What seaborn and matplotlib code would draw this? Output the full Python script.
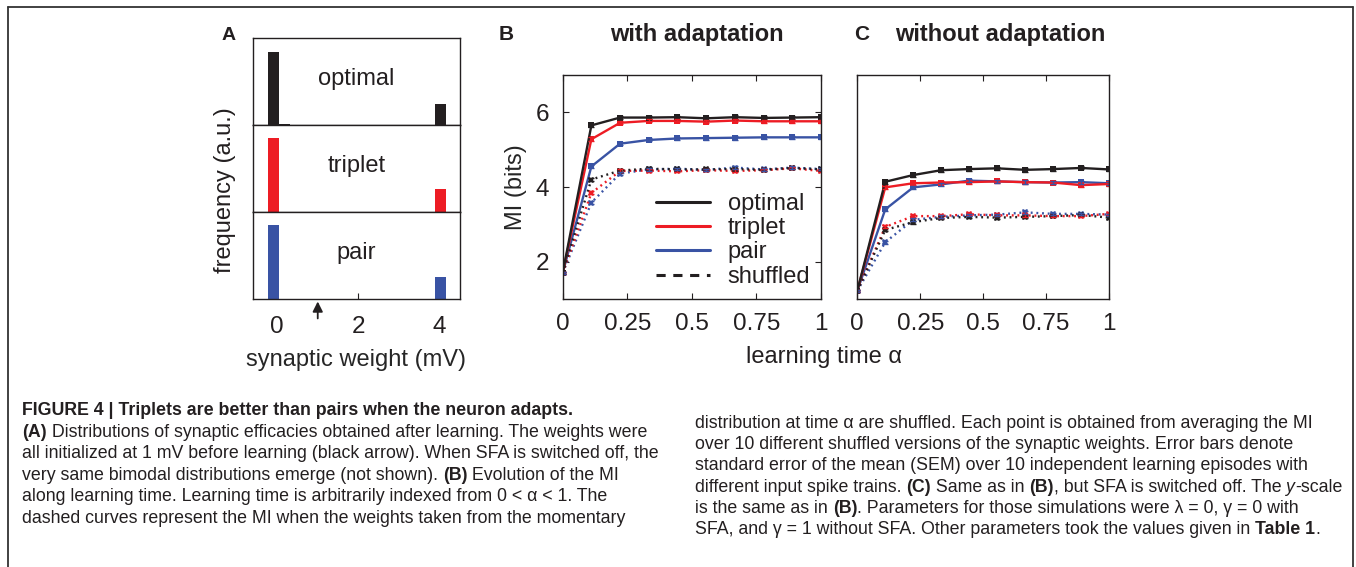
import numpy as np
import pandas as pd
import seaborn as sns
import matplotlib.pyplot as plt
from matplotlib.lines import Line2D

# Learning time points (10 snapshots)
alpha = [0, 0.111, 0.222, 0.333, 0.444, 0.556, 0.667, 0.778, 0.889, 1.0]

# Panel B: with adaptation
opt_B = [1.70, 5.65, 5.86, 5.86, 5.87, 5.84, 5.87, 5.85, 5.86, 5.87]
tri_B = [1.70, 5.28, 5.72, 5.77, 5.77, 5.75, 5.78, 5.76, 5.76, 5.76]
pair_B = [1.70, 4.55, 5.16, 5.26, 5.30, 5.31, 5.32, 5.33, 5.33, 5.33]
opt_sh_B = [1.70, 4.20, 4.44, 4.49, 4.47, 4.47, 4.48, 4.46, 4.51, 4.47]
tri_sh_B = [1.70, 3.84, 4.43, 4.44, 4.42, 4.45, 4.43, 4.45, 4.50, 4.43]
pair_sh_B = [1.70, 3.58, 4.36, 4.47, 4.49, 4.46, 4.52, 4.47, 4.52, 4.48]

# Panel C: without adaptation
opt_C = [1.22, 4.14, 4.32, 4.45, 4.48, 4.50, 4.46, 4.48, 4.51, 4.47]
tri_C = [1.22, 3.99, 4.10, 4.12, 4.13, 4.15, 4.13, 4.12, 4.05, 4.08]
pair_C = [1.22, 3.40, 3.99, 4.07, 4.17, 4.15, 4.13, 4.12, 4.13, 4.10]
opt_sh_C = [1.22, 2.85, 3.06, 3.17, 3.20, 3.18, 3.20, 3.22, 3.25, 3.18]
tri_sh_C = [1.22, 2.93, 3.22, 3.22, 3.27, 3.24, 3.24, 3.22, 3.22, 3.28]
pair_sh_C = [1.22, 2.52, 3.12, 3.20, 3.24, 3.26, 3.32, 3.28, 3.28, 3.26]

# SEM (error bars)
sem_solid = [0.02, 0.05, 0.04, 0.04, 0.04, 0.04, 0.05, 0.04, 0.04, 0.04]
sem_shuf = [0.02, 0.04, 0.04, 0.04, 0.03, 0.03, 0.04, 0.03, 0.03, 0.03]

# Panel A: weight distributions after learning
weight_bins = [-0.08, 0.18, 4.02]
opt_freq = [0.84, 0.01, 0.25]
tri_freq = [0.85, 0.0, 0.27]
pair_freq = [0.85, 0.0, 0.26]

rules = ['optimal', 'triplet', 'pair']
colors = {'optimal': '#231f20', 'triplet': '#ed1c24', 'pair': '#3953a4'}
ink = '#231f20'
fs = 17
tfs = 17.5

sns.set_style('ticks')
plt.rcParams['font.family'] = ['Liberation Sans', 'DejaVu Sans']
plt.rcParams['axes.edgecolor'] = ink
plt.rcParams['axes.linewidth'] = 1.0
plt.rcParams['xtick.color'] = ink
plt.rcParams['ytick.color'] = ink
plt.rcParams['text.color'] = ink

fig = plt.figure(figsize=(13.56, 5.67), dpi=100)
W, H = 1356.0, 567.0


def fx(px):
    return px / W


def fy(py):
    return 1 - py / H


# ---------- Panel A ----------
a_left, a_right, a_top, a_bot = 252.7, 460.0, 38.3, 299.3
sub_h = (a_bot - a_top) / 3
freqs = [opt_freq, tri_freq, pair_freq]
for i, (rule, fr) in enumerate(zip(rules, freqs)):
    top = a_top + i * sub_h
    ax = fig.add_axes([fx(a_left), fy(top + sub_h), fx(a_right - a_left), sub_h / H])
    ax.bar(weight_bins, fr, width=0.27, color=colors[rule], edgecolor='none')
    ax.set_xlim(-0.6, 4.5)
    ax.set_ylim(0, 1)
    ax.set_yticks([])
    ax.text(0.5, 0.53, rule, transform=ax.transAxes, ha='center', va='center', fontsize=fs)
    if i < 2:
        ax.set_xticks([])
    else:
        ax.set_xticks([0, 2, 4])
        ax.tick_params(axis='x', direction='in', length=4, labelsize=tfs, pad=12)
        ax.set_xlabel('synaptic weight (mV)', fontsize=fs, labelpad=8)
        ax.annotate('', xy=(1, -0.025), xytext=(1, -0.22),
                    xycoords=('data', 'axes fraction'),
                    arrowprops=dict(arrowstyle='-|>', color=ink, lw=1.3,
                                    mutation_scale=15, shrinkA=0, shrinkB=0))

fig.text(fx(225), fy(190), 'frequency (a.u.)', rotation=90,
         ha='center', va='center', fontsize=fs)


# ---------- Panels B and C ----------
def long_frame(opt, tri, pair, opt_sh, tri_sh, pair_sh):
    rows = []
    for rule, vals, kind in [('optimal', opt, 'learned'), ('triplet', tri, 'learned'),
                             ('pair', pair, 'learned'), ('optimal', opt_sh, 'shuffled'),
                             ('triplet', tri_sh, 'shuffled'), ('pair', pair_sh, 'shuffled')]:
        for a, v in zip(alpha, vals):
            rows.append({'alpha': a, 'MI': v, 'rule': rule, 'kind': kind})
    return pd.DataFrame(rows)


dfB = long_frame(opt_B, tri_B, pair_B, opt_sh_B, tri_sh_B, pair_sh_B)
dfC = long_frame(opt_C, tri_C, pair_C, opt_sh_C, tri_sh_C, pair_sh_C)

b_top, b_bot = 75.0, 299.0
axB = fig.add_axes([fx(562.7), fy(b_bot), fx(821 - 562.7), (b_bot - b_top) / H])
axC = fig.add_axes([fx(857.3), fy(b_bot), fx(1109 - 857.3), (b_bot - b_top) / H])

for ax, df in [(axB, dfB), (axC, dfC)]:
    sns.lineplot(data=df, x='alpha', y='MI', hue='rule', style='kind',
                 hue_order=rules[::-1], palette=colors,
                 dashes={'learned': '', 'shuffled': (0.8, 1.6)},
                 markers={'learned': 's', 'shuffled': 'X'},
                 markersize=5, markeredgewidth=0, linewidth=1.7,
                 errorbar=None, legend=False, ax=ax, sort=False)
    for rule in rules:
        for kind, err in [('learned', sem_solid), ('shuffled', sem_shuf)]:
            sub = df[(df['rule'] == rule) & (df['kind'] == kind)]
            ax.errorbar(sub['alpha'], sub['MI'], yerr=err, fmt='none',
                        ecolor=colors[rule], elinewidth=1.0, capsize=2.5,
                        capthick=1.0)
    ax.set_xlim(0, 1)
    ax.set_ylim(1, 7)
    ax.set_xticks([0, 0.25, 0.5, 0.75, 1])
    ax.set_xticklabels(['0', '0.25', '0.5', '0.75', '1'])
    ax.set_xlabel('')
    ax.set_ylabel('')
    ax.tick_params(axis='x', direction='in', length=4, labelsize=tfs, pad=10,
                   top=True)
    for s in ax.spines.values():
        s.set_visible(True)

axB.set_yticks([2, 4, 6])
axB.tick_params(axis='y', direction='in', length=4, labelsize=tfs, pad=10,
                right=True)
axB.set_ylabel('MI (bits)', fontsize=fs, labelpad=6)
axC.set_yticks([])

handles = [Line2D([], [], color=colors['optimal'], lw=2.2),
           Line2D([], [], color=colors['triplet'], lw=2.2),
           Line2D([], [], color=colors['pair'], lw=2.2),
           Line2D([], [], color=ink, lw=2.2, ls=(0, (3, 2.5)))]
axB.legend(handles, ['optimal', 'triplet', 'pair', 'shuffled'],
           loc='center left', bbox_to_anchor=(0.36, 0.262), frameon=False,
           fontsize=fs, handlelength=2.3, handletextpad=0.75,
           labelspacing=0.1, borderpad=0, borderaxespad=0)

fig.text(fx(824), fy(357), 'learning time α', ha='center', va='center', fontsize=fs)

# panel letters and titles
fig.text(fx(229), fy(35), 'A', ha='center', va='center', fontsize=14, fontweight='bold')
fig.text(fx(506), fy(35), 'B', ha='center', va='center', fontsize=15, fontweight='bold')
fig.text(fx(862), fy(35), 'C', ha='center', va='center', fontsize=15, fontweight='bold')
fig.text(fx(697), fy(35), 'with adaptation', ha='center', va='center', fontsize=fs,
         fontweight='bold')
fig.text(fx(1000), fy(35), 'without adaptation', ha='center', va='center', fontsize=fs,
         fontweight='bold')

# outer frame (top, left, right)
frame_kw = dict(color='#333333', lw=1.3, transform=fig.transFigure)
fig.add_artist(Line2D([fx(8), fx(1353)], [fy(7), fy(7)], **frame_kw))
fig.add_artist(Line2D([fx(8), fx(8)], [fy(7), 0], **frame_kw))
fig.add_artist(Line2D([fx(1353), fx(1353)], [fy(7), 0], **frame_kw))

# ---------- caption ----------
cap_font = ['Liberation Sans', 'DejaVu Sans']
cap_size = 12.8
renderer = fig.canvas.get_renderer()


def rich_line(x, y, parts):
    x = fx(x)
    for txt, style in parts:
        t = fig.text(x, fy(y), txt, fontsize=cap_size, family=cap_font,
                     fontweight='bold' if style == 'b' else 'normal',
                     fontstyle='italic' if style == 'i' else 'normal',
                     va='baseline', color=ink)
        x += t.get_window_extent(renderer).width / W


left_lines = [
    [('FIGURE 4 | Triplets are better than pairs when the neuron adapts.', 'b')],
    [('(A)', 'b'), (' Distributions of synaptic efficacies obtained after learning. The weights were', '')],
    [('all initialized at 1 mV before learning (black arrow). When SFA is switched off, the', '')],
    [('very same bimodal distributions emerge (not shown). ', ''), ('(B)', 'b'), (' Evolution of the MI', '')],
    [('along learning time. Learning time is arbitrarily indexed from 0 < α < 1. The', '')],
    [('dashed curves represent the MI when the weights taken from the momentary', '')],
]
right_lines = [
    [('distribution at time α are shuffled. Each point is obtained from averaging the MI', '')],
    [('over 10 different shuffled versions of the synaptic weights. Error bars denote', '')],
    [('standard error of the mean (SEM) over 10 independent learning episodes with', '')],
    [('different input spike trains. ', ''), ('(C)', 'b'), (' Same as in ', ''), ('(B)', 'b'),
     (', but SFA is switched off. The ', ''), ('y', 'i'), ('-scale', '')],
    [('is the same as in ', ''), ('(B)', 'b'),
     ('. Parameters for those simulations were λ = 0, γ = 0 with', '')],
    [('SFA, and γ = 1 without SFA. Other parameters took the values given in ', ''),
     ('Table 1', 'b'), ('.', '')],
]
for i, parts in enumerate(left_lines):
    rich_line(22, 415 + i * 21.6, parts)
for i, parts in enumerate(right_lines):
    rich_line(695, 428 + i * 21.2, parts)

fig.savefig('out.png', dpi=100)
